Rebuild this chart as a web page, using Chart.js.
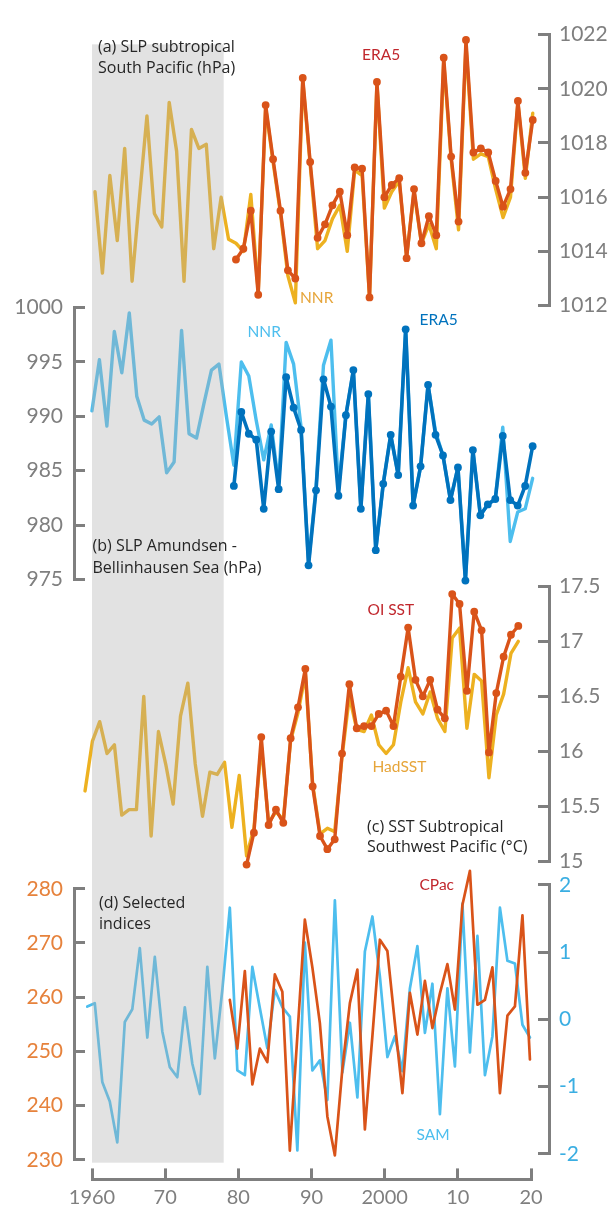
<!DOCTYPE html>
<html>
<head>
<meta charset="utf-8">
<script src="https://cdn.jsdelivr.net/npm/chart.js@4.4.1/dist/chart.umd.min.js"></script>
<style>
  html, body { margin: 0; padding: 0; background: #ffffff; }
  #wrap { position: relative; width: 610px; height: 1214px; }
  canvas { display: block; }
</style>
</head>
<body>
<div id="wrap"><canvas id="chart" width="610" height="1214"></canvas></div>
<script>
// ---------- (a) SLP subtropical South Pacific (hPa) ----------
const slpSPacNNRStart = 1960;
const slpSPacNNR = [
  1016.2, 1013.2, 1016.8, 1014.4, 1017.8, 1012.9, 1016.0, 1019.0, 1015.4, 1014.9,
  1019.5, 1017.7, 1012.9, 1018.5, 1017.8, 1017.95, 1014.1, 1016.0, 1014.45,
  1014.3, 1014.0, 1016.1, 1012.5, 1019.3, 1017.3, 1015.4, 1013.1, 1012.1, 1020.3,
  1017.2, 1014.1, 1014.4, 1015.2, 1015.7, 1014.0, 1017.0, 1016.8, 1012.3, 1020.2,
  1015.6, 1016.2, 1016.6, 1013.8, 1016.2, 1014.3, 1015.0, 1014.1, 1021.0, 1017.4,
  1014.8, 1021.6, 1017.4, 1017.6, 1017.5, 1016.3, 1015.25, 1016.0, 1019.5, 1016.7, 1019.1
];
const slpSPacERA5Start = 1979;
const slpSPacERA5 = [
  1013.7, 1014.1, 1015.5, 1012.4, 1019.4, 1017.4, 1015.5, 1013.3, 1013.0, 1020.4,
  1017.3, 1014.5, 1015.0, 1015.7, 1016.2, 1014.6, 1017.1, 1017.05, 1012.3, 1020.25,
  1016.0, 1016.45, 1016.7, 1013.75, 1016.3, 1014.3, 1015.3, 1014.6, 1021.15, 1017.5,
  1015.1, 1021.8, 1017.65, 1017.8, 1017.65, 1016.6, 1015.65, 1016.3, 1019.55, 1016.9, 1018.85
];
const ticksA = [1012, 1014, 1016, 1018, 1020, 1022];

// ---------- (b) SLP Amundsen - Bellinhausen Sea (hPa) ----------
const slpABSNNRStart = 1960;
const slpABSNNR = [
  990.5, 995.2, 989.1, 997.8, 994.0, 999.5, 991.85, 989.65, 989.3, 989.95,
  984.8, 985.8, 997.9, 988.4, 988.0, 991.2, 994.25, 994.8, 990.0,
  985.5, 995.0, 993.7, 989.6, 986.0, 989.2, 983.8, 996.8, 994.8, 989.0,
  976.5, 983.5, 994.7, 997.0, 983.3, 990.1, 994.2, 981.5, 992.0, 977.7,
  983.8, 988.3, 984.6, 998.0, 981.8, 985.4, 992.9, 988.6, 986.4, 982.3,
  985.3, 974.9, 986.9, 980.9, 981.9, 982.4, 989.0, 978.5, 981.2, 981.5, 984.3
];
const slpABSERA5Start = 1979;
const slpABSERA5 = [
  983.6, 990.4, 988.4, 987.85, 981.5, 988.6, 983.3, 993.6, 990.8, 988.75,
  976.3, 983.2, 993.4, 990.9, 982.7, 990.1, 994.25, 981.5, 992.05, 977.7,
  983.8, 988.3, 984.6, 998.0, 981.8, 985.4, 992.9, 988.3, 986.4, 982.3,
  985.3, 974.9, 986.9, 980.9, 981.9, 982.4, 988.2, 982.3, 981.8, 983.6, 987.25
];
const ticksB = [975, 980, 985, 990, 995, 1000];

// ---------- (c) SST subtropical Southwest Pacific (°C) ----------
const sstHadStart = 1959;
const sstHad = [
  15.64, 16.09, 16.27, 15.98, 16.06, 15.42, 15.47, 15.47, 16.50, 15.23,
  16.18, 15.88, 15.52, 16.32, 16.62, 15.89, 15.41, 15.81, 15.79, 15.90,
  15.31, 15.78, 15.05, 15.30, 16.05, 15.35, 15.45, 15.38, 16.10, 16.35,
  16.70, 15.70, 15.25, 15.30, 15.27, 15.95, 16.50, 16.20, 16.18, 16.33,
  16.06, 15.98, 16.06, 16.45, 16.76, 16.45, 16.34, 16.54, 16.30, 16.18,
  17.03, 17.12, 16.21, 16.70, 16.64, 15.76, 16.33, 16.52, 16.89, 17.00
];
const sstOIStart = 1981;
const sstOI = [
  14.97, 15.26, 16.13, 15.33, 15.47, 15.35, 16.12, 16.40, 16.75, 15.68,
  15.23, 15.11, 15.20, 15.98, 16.61, 16.21, 16.23, 16.23, 16.34, 16.37,
  16.23, 16.68, 17.125, 16.65, 16.50, 16.65, 16.38, 16.30, 17.43, 17.34,
  16.55, 17.27, 17.10, 15.99, 16.53, 16.86, 17.06, 17.14
];
const ticksC = [15, 15.5, 16, 16.5, 17, 17.5];

// ---------- (d) Selected indices ----------
const samStart = 1959;
const sam = [
  0.19, 0.24, -0.93, -1.22, -1.83, -0.04, 0.15, 1.06, -0.27, 0.93,
  -0.18, -0.71, -0.86, 0.18, -0.66, -1.11, 0.78, -0.58, 0.44, 1.66,
  -0.76, -0.83, 0.78, 0.17, -0.43, 0.44, 0.18, 0.04, -1.95, 1.14,
  -0.76, -0.61, -1.20, 1.77, -0.79, -0.05, -1.16, 1.01, 1.53, 0.64,
  -0.56, -0.25, -0.77, 0.46, 1.09, -0.20, 0.53, -1.41, 0.46, -0.70,
  1.72, -0.49, 1.24, -0.83, -0.25, 1.66, 0.87, 0.83, -0.08, -0.27
];
const cpacStart = 1978;
const cpac = [
  259.5, 250.5, 264.8, 243.9, 250.5, 248.0, 264.2, 261.0, 231.7, 252.8,
  274.3, 265.5, 255.2, 238.0, 230.8, 246.8, 258.9, 265.1, 235.6, 252.8,
  270.6, 268.5, 255.2, 242.3, 260.8, 253.1, 263.0, 254.3, 260.7, 266.1,
  257.7, 277.0, 283.3, 258.6, 259.5, 265.5, 242.3, 256.6, 258.3, 275.1, 248.5
];
const ticksDLeft = [230, 240, 250, 260, 270, 280];
const ticksDRight = [-2, -1, 0, 1, 2];

// ---------- shared time axis ----------
const decades = [1960, 1970, 1980, 1990, 2000, 2010, 2020];
const decadeLabels = ['1960', '70', '80', '90', '2000', '10', '20'];
const shadedYears = [1960, 1978];

// ---------- styling ----------
const C = {
  axis: '#7f7f7f',
  red: '#d95319',
  gold: '#edb120',
  lightBlue: '#4dbeee',
  darkBlue: '#0072bd',
  labelRed: '#c1272d',
  labelGold: '#e6a53a',
  orangeTick: '#e6823c',
  blueTick: '#3aaee2',
  text: '#262626'
};
const FONT = 'Lato';
const PANEL_FONT = '"Open Sans"';
Chart.defaults.font.family = FONT;
Chart.defaults.color = C.axis;

function pts(start, values) {
  return values.map((v, i) => ({ x: start + i, y: v }));
}

function lineSet(label, start, values, xID, yID, color, width, markers) {
  return {
    label,
    data: pts(start, values),
    xAxisID: xID,
    yAxisID: yID,
    borderColor: color,
    backgroundColor: color,
    borderWidth: width,
    pointRadius: markers ? 3.9 : 0,
    pointHoverRadius: 0,
    pointBorderWidth: 0,
    tension: 0,
    clip: false,
    borderJoinStyle: 'round',
    borderCapStyle: 'round'
  };
}

// bracket-style y axis inside a stacked column
function bracketAxis(position, stack, weight, min, max, tickList, labelColor, colWidth) {
  return {
    type: 'linear',
    position,
    stack,
    stackWeight: weight,
    min, max,
    afterBuildTicks: s => { s.ticks = tickList.map(v => ({ value: v })); },
    afterFit: s => { s.width = colWidth; },
    border: { display: true, color: C.axis, width: 3 },
    grid: { display: true, drawOnChartArea: false, drawTicks: true, tickLength: -11, color: C.axis, lineWidth: 3 },
    ticks: {
      color: labelColor,
      font: { family: FONT, size: 21 },
      padding: position === 'left' ? 22 : 21,
      callback: v => String(v)
    }
  };
}
function spacer(position, stack, weight) {
  return { type: 'linear', position, stack, stackWeight: weight, display: false, min: 0, max: 1 };
}
function timeAxis(min, max) {
  return { type: 'linear', position: 'bottom', display: false, min, max };
}

const LEFT_W = 74, RIGHT_W = 61;

const scales = {
  // left column, listed bottom-up
  gapL3: spacer('left', 'L', 20),
  yD: bracketAxis('left', 'L', 276, 230, 280, ticksDLeft, C.orangeTick, LEFT_W),
  gapL2: spacer('left', 'L', 315),
  yB: bracketAxis('left', 'L', 277, 975, 1000, ticksB, C.axis, LEFT_W),
  gapL1: spacer('left', 'L', 278),
  // right column, listed top-down
  yA: bracketAxis('right', 'R', 276, 1012, 1022, ticksA, C.axis, RIGHT_W),
  gapR1: spacer('right', 'R', 286),
  yC: bracketAxis('right', 'R', 280, 15, 17.5, ticksC, C.axis, RIGHT_W),
  gapR2: spacer('right', 'R', 24),
  yDR: bracketAxis('right', 'R', 274, -2, 2, ticksDRight, C.blueTick, RIGHT_W),
  gapR3: spacer('right', 'R', 26),
  // bottom row: visible decade axis between two spacers
  xl: { type: 'linear', position: 'bottom', stack: 'B', stackWeight: 18, display: false, min: 0, max: 1 },
  x: {
    type: 'linear', position: 'bottom', stack: 'B', stackWeight: 439,
    min: 1960, max: 2020,
    afterBuildTicks: s => { s.ticks = decades.map(v => ({ value: v })); },
    afterFit: s => { s.height = 28; },
    border: { display: true, color: C.axis, width: 3 },
    grid: { display: true, drawOnChartArea: false, drawTicks: true, tickLength: -11, color: C.axis, lineWidth: 3 },
    ticks: {
      color: C.axis, font: { family: FONT, size: 20 }, padding: 17, maxRotation: 0, autoSkip: false,
      callback: v => decadeLabels[decades.indexOf(v)]
    }
  },
  xr: { type: 'linear', position: 'bottom', stack: 'B', stackWeight: 18, display: false, min: 0, max: 1 },
  // per-panel time axes of the composite figure
  xa: timeAxis(1957.17, 2021.19),
  xb: timeAxis(1957.60, 2021.19),
  xc: timeAxis(1957.50, 2022.18),
  xd: timeAxis(1957.23, 2020.54)
};

const datasets = [
  lineSet('ERA5', slpSPacERA5Start, slpSPacERA5, 'xa', 'yA', C.red, 3.4, true),
  lineSet('NNR', slpSPacNNRStart, slpSPacNNR, 'xa', 'yA', C.gold, 3.4, false),
  lineSet('ERA5', slpABSERA5Start, slpABSERA5, 'xb', 'yB', C.darkBlue, 3.6, true),
  lineSet('NNR', slpABSNNRStart, slpABSNNR, 'xb', 'yB', C.lightBlue, 3.4, false),
  lineSet('OI SST', sstOIStart, sstOI, 'xc', 'yC', C.red, 3.4, true),
  lineSet('HadSST', sstHadStart, sstHad, 'xc', 'yC', C.gold, 3.4, false),
  lineSet('CPac', cpacStart, cpac, 'xd', 'yD', C.red, 2.7, false),
  lineSet('SAM', samStart, sam, 'xd', 'yDR', C.lightBlue, 2.7, false)
];

const notes = [
  { t: '(a) SLP subtropical', x: 98, y: 51.5, c: C.text, s: 16, f: PANEL_FONT },
  { t: 'South Pacific (hPa)', x: 98, y: 72.5, c: C.text, s: 16, f: PANEL_FONT },
  { t: '(b) SLP Amundsen -', x: 92.5, y: 550.5, c: C.text, s: 16, f: PANEL_FONT },
  { t: 'Bellinhausen Sea (hPa)', x: 92.5, y: 572.5, c: C.text, s: 16, f: PANEL_FONT },
  { t: '(c) SST Subtropical', x: 367, y: 831.5, c: C.text, s: 16, f: PANEL_FONT },
  { t: 'Southwest Pacific (°C)', x: 367, y: 852, c: C.text, s: 16, f: PANEL_FONT },
  { t: '(d) Selected', x: 99, y: 908, c: C.text, s: 16, f: PANEL_FONT },
  { t: 'indices', x: 99, y: 928.5, c: C.text, s: 16, f: PANEL_FONT },
  { t: 'ERA5', x: 362, y: 60, c: C.labelRed, s: 15.5, f: FONT },
  { t: 'NNR', x: 300, y: 303, c: C.labelGold, s: 15.5, f: FONT },
  { t: 'NNR', x: 247.5, y: 336.5, c: C.lightBlue, s: 15.5, f: FONT },
  { t: 'ERA5', x: 419.5, y: 325, c: C.darkBlue, s: 15.5, f: FONT },
  { t: 'OI SST', x: 367.5, y: 615, c: C.labelRed, s: 15.5, f: FONT },
  { t: 'HadSST', x: 372.5, y: 772, c: C.labelGold, s: 15.5, f: FONT },
  { t: 'CPac', x: 419.5, y: 890, c: C.labelRed, s: 15.5, f: FONT },
  { t: 'SAM', x: 416.5, y: 1139.5, c: C.lightBlue, s: 15.5, f: FONT }
];

const panelDecor = {
  id: 'panelDecor',
  afterDatasetsDraw(chart) {
    const { ctx, scales: s } = chart;
    // translucent band over the pre-satellite years
    const x0 = s.x.getPixelForValue(shadedYears[0]);
    const x1 = s.x.getPixelForValue(shadedYears[1]);
    const y0 = s.yA.getPixelForValue(1021.64);
    const y1 = s.yD.getPixelForValue(229.46);
    ctx.save();
    ctx.fillStyle = 'rgba(175,175,175,0.36)';
    ctx.fillRect(x0, y0, x1 - x0, y1 - y0);
    ctx.restore();
  },
  afterDraw(chart) {
    const { ctx } = chart;
    ctx.save();
    ctx.textBaseline = 'alphabetic';
    ctx.textAlign = 'left';
    for (const n of notes) {
      ctx.font = `${n.s}px ${n.f}`;
      ctx.fillStyle = n.c;
      ctx.fillText(n.t, n.x, n.y);
    }
    ctx.restore();
  }
};

new Chart(document.getElementById('chart'), {
  type: 'line',
  data: { datasets },
  options: {
    responsive: false,
    animation: false,
    devicePixelRatio: 1,
    layout: { padding: { top: 20, left: 0, right: 0, bottom: 0 } },
    plugins: { legend: { display: false }, tooltip: { enabled: false }, title: { display: false } },
    events: [],
    scales
  },
  plugins: [panelDecor]
});
</script>
</body>
</html>
